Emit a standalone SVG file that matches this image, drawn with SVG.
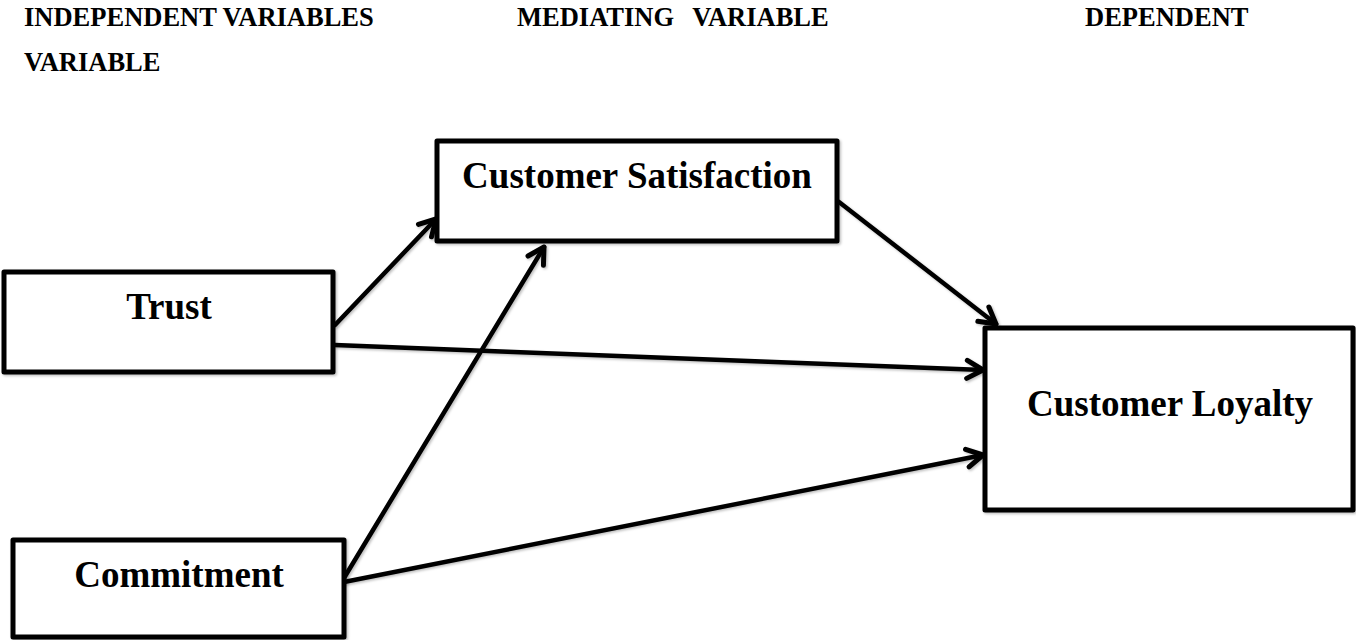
<svg xmlns="http://www.w3.org/2000/svg" width="1356" height="640" viewBox="0 0 1356 640">
  <style>
    .hdr { font-family: "Liberation Serif", "Times New Roman", serif; font-weight: bold; font-size: 26.5px; fill: #000; }
    .lbl { font-family: "Liberation Serif", "Times New Roman", serif; font-weight: bold; font-size: 37px; fill: #000; text-anchor: middle; }
    .box { fill: #fff; stroke: #000; stroke-width: 5; stroke-linejoin: round; }
    .edge { fill: none; stroke: #000; stroke-width: 4.5; stroke-linecap: round; }
  </style>
  <defs>
    <filter id="shadow" x="-10%" y="-10%" width="120%" height="120%">
      <feDropShadow dx="1.5" dy="1.5" stdDeviation="1.2" flood-color="#000" flood-opacity="0.25"/>
    </filter>
    <marker id="arrow" markerUnits="userSpaceOnUse" viewBox="-22 -14 28 28" markerWidth="28" markerHeight="28" refX="0" refY="0" orient="auto" overflow="visible">
      <path d="M -16 -9 L 0 0 L -16 9" fill="none" stroke="#000" stroke-width="5" stroke-linecap="round" stroke-linejoin="round"/>
    </marker>
  </defs>
  <rect width="1356" height="640" fill="#fff"/>

  <g id="headers">
    <text class="hdr" x="24" y="26">INDEPENDENT VARIABLES</text>
    <text class="hdr" x="24" y="71">VARIABLE</text>
    <text class="hdr" x="517" y="26" word-spacing="12">MEDIATING VARIABLE</text>
    <text class="hdr" x="1085" y="26">DEPENDENT</text>
  </g>

  <g id="connectors" filter="url(#shadow)">
    <line class="edge" x1="335" y1="325" x2="436" y2="219" marker-end="url(#arrow)"/>
    <line class="edge" x1="335" y1="345" x2="983" y2="370" marker-end="url(#arrow)"/>
    <line class="edge" x1="344" y1="578" x2="544" y2="247" marker-end="url(#arrow)"/>
    <line class="edge" x1="344" y1="582" x2="983" y2="455" marker-end="url(#arrow)"/>
    <line class="edge" x1="839" y1="202" x2="996" y2="324" marker-end="url(#arrow)"/>
  </g>

  <g id="node-trust">
    <rect class="box" x="4" y="272" width="329" height="100" filter="url(#shadow)"/>
    <text class="lbl" x="169" y="319">Trust</text>
  </g>
  <g id="node-commitment">
    <rect class="box" x="13" y="540" width="331" height="97" filter="url(#shadow)"/>
    <text class="lbl" x="179" y="587">Commitment</text>
  </g>
  <g id="node-satisfaction">
    <rect class="box" x="437" y="141" width="400" height="100" filter="url(#shadow)"/>
    <text class="lbl" x="637" y="188">Customer Satisfaction</text>
  </g>
  <g id="node-loyalty">
    <rect class="box" x="985" y="328" width="368" height="182" filter="url(#shadow)"/>
    <text class="lbl" x="1170" y="416">Customer Loyalty</text>
  </g>
</svg>
